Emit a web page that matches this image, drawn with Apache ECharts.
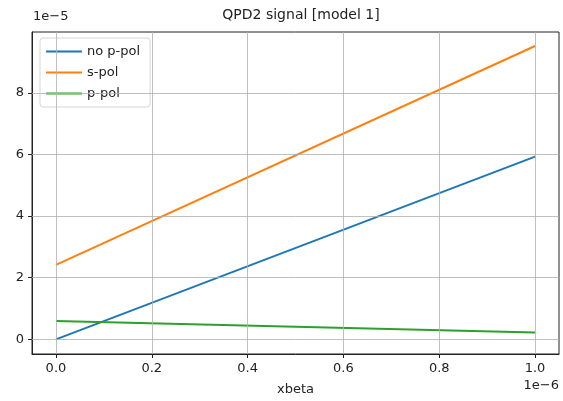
<!DOCTYPE html>
<html lang="en">
<head>
    <meta charset="UTF-8">
    <title>QPD2 signal [model 1]</title>
    <script src="https://cdn.jsdelivr.net/npm/echarts@6/dist/echarts.min.js"></script>
</head>
<body style="margin:0;background:#fff;">
    <div id="main" style="width: 563px; height: 401px;"></div>
    <script>
        // x in units of 1e-6, y in units of 1e-5
        const xbeta = [0, 1];
        const noPPol = [0, 5.93];
        const sPol = [2.42, 9.52];
        const pPol = [0.6, 0.22];
        const xTicks = [0, 0.2, 0.4, 0.6, 0.8, 1.0];
        const yTicks = [0, 2, 4, 6, 8];

        const myChart = echarts.init(document.getElementById('main'));
        const font = 'DejaVu Sans';

        function pairs(ys) {
            return xbeta.map(function (x, i) { return [x, ys[i]]; });
        }

        const options = {
            backgroundColor: '#fff',
            animation: false,
            title: {
                text: 'QPD2 signal [model 1]',
                left: 296,
                top: 3,
                textAlign: 'center',
                textStyle: { fontFamily: font, fontSize: 14, fontWeight: 'normal', color: '#222' }
            },
            legend: {
                orient: 'vertical',
                left: 40,
                top: 38,
                padding: [7, 10, 7, 6],
                itemGap: 8,
                itemWidth: 36,
                itemHeight: 2,
                icon: 'rect',
                backgroundColor: 'rgba(255,255,255,0.8)',
                borderColor: '#d5d5d5',
                borderWidth: 1,
                borderRadius: 3,
                textStyle: { fontFamily: font, fontSize: 13, color: '#222' },
                data: ['no p-pol', 's-pol', 'p-pol']
            },
            grid: {
                left: 32, right: 4, top: 32, bottom: 46,
                show: true, borderColor: '#222', borderWidth: 1
            },
            xAxis: {
                type: 'value',
                min: -0.05,
                max: 1.05,
                name: 'xbeta',
                nameLocation: 'middle',
                nameGap: 29,
                nameTextStyle: { fontFamily: font, fontSize: 13, color: '#222' },
                axisLine: { show: true, onZero: false, lineStyle: { color: '#222' } },
                axisTick: { show: true, length: 4, customValues: xTicks, lineStyle: { color: '#222' } },
                axisLabel: {
                    customValues: xTicks,
                    fontFamily: font, fontSize: 13, color: '#222', margin: 8,
                    formatter: function (v) { return v.toFixed(1); }
                },
                splitLine: { show: false }
            },
            yAxis: {
                type: 'value',
                min: -0.475,
                max: 9.975,
                axisLine: { show: true, onZero: false, lineStyle: { color: '#222' } },
                axisTick: { show: true, length: 4, customValues: yTicks, lineStyle: { color: '#222' } },
                axisLabel: {
                    customValues: yTicks,
                    fontFamily: font, fontSize: 13, color: '#222', margin: 8,
                    formatter: function (v) { return String(v); }
                },
                splitLine: { show: false }
            },
            graphic: [
                {
                    type: 'text', left: 33, top: 10,
                    style: { text: '1e\u22125', font: '13px "DejaVu Sans"', fill: '#222' }
                },
                {
                    type: 'text', right: 4, top: 379,
                    style: { text: '1e\u22126', font: '13px "DejaVu Sans"', fill: '#222' }
                }
            ],
            series: [
                {
                    name: '_grid',
                    type: 'line',
                    data: [],
                    z: 1,
                    markLine: {
                        silent: true,
                        symbol: 'none',
                        label: { show: false },
                        lineStyle: { color: '#b0b0b0', width: 0.8, type: 'solid' },
                        data: xTicks.map(function (v) { return { xAxis: v }; })
                            .concat(yTicks.map(function (v) { return { yAxis: v }; }))
                    }
                },
                {
                    name: 'no p-pol', type: 'line', data: pairs(noPPol),
                    showSymbol: false, z: 3,
                    color: '#1f77b4', lineStyle: { width: 2 }
                },
                {
                    name: 's-pol', type: 'line', data: pairs(sPol),
                    showSymbol: false, z: 3,
                    color: '#ff7f0e', lineStyle: { width: 2 }
                },
                {
                    name: 'p-pol', type: 'line', data: pairs(pPol),
                    showSymbol: false, z: 3,
                    color: '#2ca02c', lineStyle: { width: 2 }
                }
            ]
        };

        myChart.setOption(options);
    </script>
</body>
</html>
